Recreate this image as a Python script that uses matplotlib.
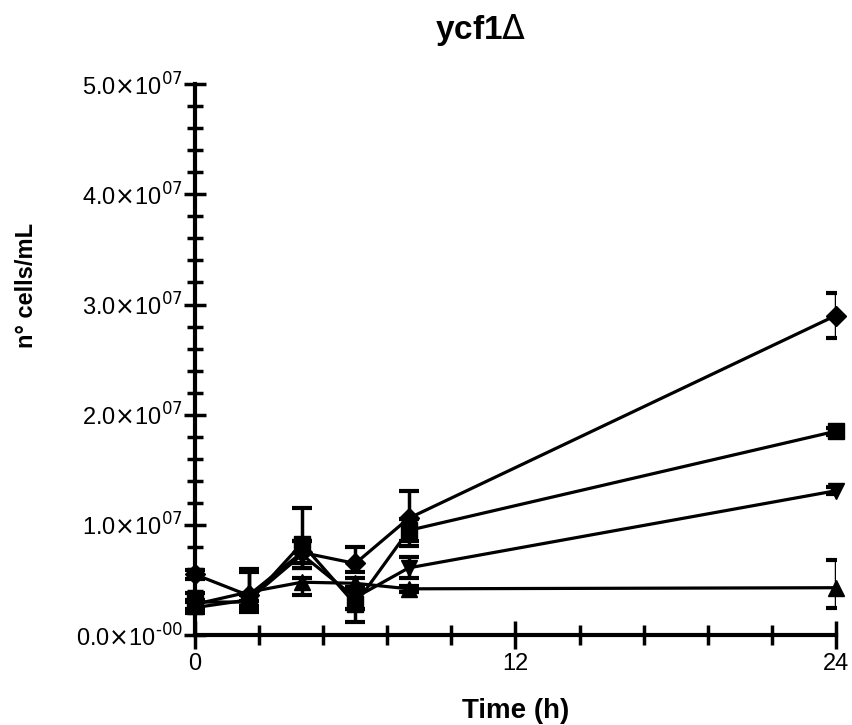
import matplotlib
matplotlib.use("Agg")
import matplotlib.pyplot as plt
from matplotlib.patches import Rectangle
from matplotlib.ticker import MultipleLocator, FuncFormatter

plt.rcParams['font.family'] = ['Liberation Sans', 'DejaVu Sans']

time_h = [0, 2, 4, 6, 8, 24]

# cells/mL, in units of 1e6; errors given as (below, above)
diamond = [5.5, 3.6, 7.5, 6.5, 10.6, 29.0]
diamond_lo = [0.4, 1.5, 1.0, 0.8, 2.5, 2.0]
diamond_hi = [0.4, 2.4, 1.0, 1.5, 2.5, 2.0]
square = [3.0, 3.0, 8.3, 2.8, 9.5, 18.5]
square_lo = [0.8, 0.6, 2.2, 1.6, 1.0, 0.3]
square_hi = [0.8, 0.6, 3.2, 1.2, 1.0, 0.3]
tri_down = [2.5, 3.2, 7.3, 3.4, 6.1, 13.1]
tri_down_lo = [0.5, 0.6, 1.2, 1.0, 0.9, 0.3]
tri_down_hi = [0.5, 0.6, 1.2, 1.0, 1.0, 0.3]
tri_up = [2.8, 3.9, 4.8, 4.7, 4.2, 4.3]
tri_up_lo = [0.4, 0.8, 1.2, 0.5, 0.3, 1.8]
tri_up_hi = [0.4, 1.8, 0.4, 0.5, 0.3, 2.5]

series = [
    (diamond, diamond_lo, diamond_hi, 'D', 10),
    (square, square_lo, square_hi, 's', 11),
    (tri_down, tri_down_lo, tri_down_hi, 'v', 12),
    (tri_up, tri_up_lo, tri_up_hi, '^', 12),
]

fig = plt.figure(figsize=(8.52, 7.25), dpi=100)
ax = fig.add_axes([0.229, 0.124, 0.752, 0.760])

# error bars get clipped at the right edge of the plot, like the original
clip = Rectangle((-3, -1e7), 27, 8e7, transform=ax.transData)

for vals, lo, hi, mk, ms in series:
    y = [v * 1e6 for v in vals]
    err = [[v * 1e6 for v in lo], [v * 1e6 for v in hi]]
    cont = ax.errorbar(time_h, y, yerr=err, fmt='none', ecolor='black',
                       elinewidth=2.5, capsize=7, capthick=3)
    for art in list(cont.lines[1]) + list(cont.lines[2]):
        art.set_clip_path(clip)
    ax.plot(time_h, y, color='black', marker=mk, markersize=ms,
            linewidth=2.3, clip_on=False)

ax.set_xlim(0, 24)
ax.set_ylim(0, 5e7)
ax.spines['top'].set_visible(False)
ax.spines['right'].set_visible(False)
ax.spines['left'].set_linewidth(3)
ax.spines['bottom'].set_linewidth(3)

ax.xaxis.set_major_locator(MultipleLocator(12))
ax.xaxis.set_minor_locator(MultipleLocator(2.4))
ax.yaxis.set_major_locator(MultipleLocator(1e7))
ax.yaxis.set_minor_locator(MultipleLocator(2e6))
ax.tick_params(which='both', direction='inout', width=2.5, labelsize=17)
ax.tick_params(axis='y', which='major', length=16, pad=1)
ax.tick_params(axis='y', which='minor', length=11)
ax.tick_params(axis='x', which='major', length=20, pad=3)
ax.tick_params(axis='x', which='minor', length=14)


def yfmt(v, pos):
    if v == 0:
        return r'0.0$\times$10$^{\text{-00}}$'
    return r'%.1f$\times$10$^{07}$' % (v / 1e7)


ax.yaxis.set_major_formatter(FuncFormatter(yfmt))

ax.set_xlabel('Time (h)', fontsize=20, fontweight='bold')
ax.xaxis.set_label_coords(0.5, -0.115)
ax.set_ylabel('n° cells/mL', fontsize=17, fontweight='bold')
ax.yaxis.set_label_coords(-0.245, 0.635)
fig.text(481 / 852, 1 - 12 / 725, r'ycf1$\Delta$', fontsize=24,
         fontweight='bold', ha='center', va='top')

fig.savefig('out.png', dpi=100)
